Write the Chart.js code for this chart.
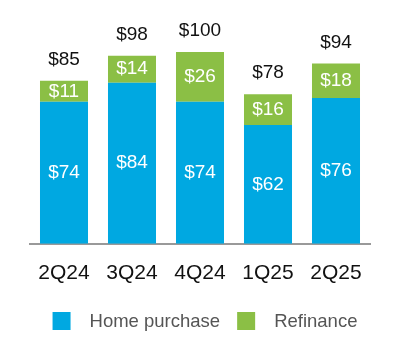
<!DOCTYPE html>
<html>
<head>
<meta charset="utf-8">
<script src="https://cdn.jsdelivr.net/npm/chart.js"></script>
<style>
  html, body { margin: 0; padding: 0; background: #fff; }
  #wrap { width: 400px; height: 364px; }
</style>
</head>
<body>
<div id="wrap"><canvas id="mortgageChart"></canvas></div>
<script>
    var quarters = ['2Q24', '3Q24', '4Q24', '1Q25', '2Q25'];
    var homePurchase = [74, 84, 74, 62, 76];
    var refinance = [11, 14, 26, 16, 18];
    var totals = [85, 98, 100, 78, 94];

    var FONT = "'Liberation Sans', Arial, Helvetica, sans-serif";

    // writes $ labels inside segments and the totals on top
    var valueLabels = {
        id: 'valueLabels',
        afterDatasetsDraw: function (chart) {
            var ctx = chart.ctx;
            ctx.save();
            ctx.textAlign = 'center';
            ctx.textBaseline = 'middle';
            chart.data.datasets.forEach(function (ds, i) {
                var meta = chart.getDatasetMeta(i);
                meta.data.forEach(function (bar, j) {
                    ctx.fillStyle = '#ffffff';
                    ctx.font = '19px ' + FONT;
                    ctx.fillText('$' + ds.data[j], bar.x, (bar.y + bar.base) / 2);
                });
            });
            var top = chart.getDatasetMeta(chart.data.datasets.length - 1);
            top.data.forEach(function (bar, j) {
                ctx.fillStyle = '#111111';
                ctx.font = '19px ' + FONT;
                ctx.fillText('$' + totals[j], bar.x, bar.y - 21);
            });
            ctx.restore();
        }
    };

    // legend with a wider gap between swatch and text than the built-in one
    var bottomLegend = {
        id: 'bottomLegend',
        afterDraw: function (chart) {
            var ctx = chart.ctx;
            var box = 18, gap = 19, itemGap = 17;
            ctx.save();
            ctx.font = '18.5px ' + FONT;
            ctx.textBaseline = 'middle';
            var total = 0;
            chart.data.datasets.forEach(function (ds, i) {
                total += box + gap + ctx.measureText(ds.label).width;
                if (i > 0) total += itemGap;
            });
            var x = 205 - total / 2;
            var y = 321;
            chart.data.datasets.forEach(function (ds) {
                ctx.fillStyle = ds.backgroundColor;
                ctx.fillRect(x, y - box / 2, box, box);
                x += box + gap;
                ctx.fillStyle = '#555555';
                ctx.fillText(ds.label, x, y + 1);
                x += ctx.measureText(ds.label).width + itemGap;
            });
            ctx.restore();
        }
    };

    var ctx = document.getElementById('mortgageChart').getContext('2d');
    var mortgageChart = new Chart(ctx, {
        type: 'bar',
        data: {
            labels: quarters,
            datasets: [{
                label: 'Home purchase',
                data: homePurchase,
                backgroundColor: '#00a8e1'
            }, {
                label: 'Refinance',
                data: refinance,
                backgroundColor: '#8bbf45'
            }]
        },
        options: {
            responsive: true,
            maintainAspectRatio: false,
            animation: false,
            categoryPercentage: 1,
            barPercentage: 0.706,
            layout: {
                padding: { top: 52, left: 30, right: 30, bottom: 69 }
            },
            scales: {
                x: {
                    stacked: true,
                    grid: { display: false },
                    border: { color: '#999999', width: 2 },
                    ticks: {
                        color: '#111111',
                        padding: 9,
                        font: { family: FONT, size: 21 }
                    }
                },
                y: {
                    stacked: true,
                    display: false,
                    min: 0,
                    max: 100
                }
            },
            plugins: {
                tooltip: { enabled: false },
                legend: { display: false }
            }
        },
        plugins: [valueLabels, bottomLegend]
    });
</script>
</body>
</html>
